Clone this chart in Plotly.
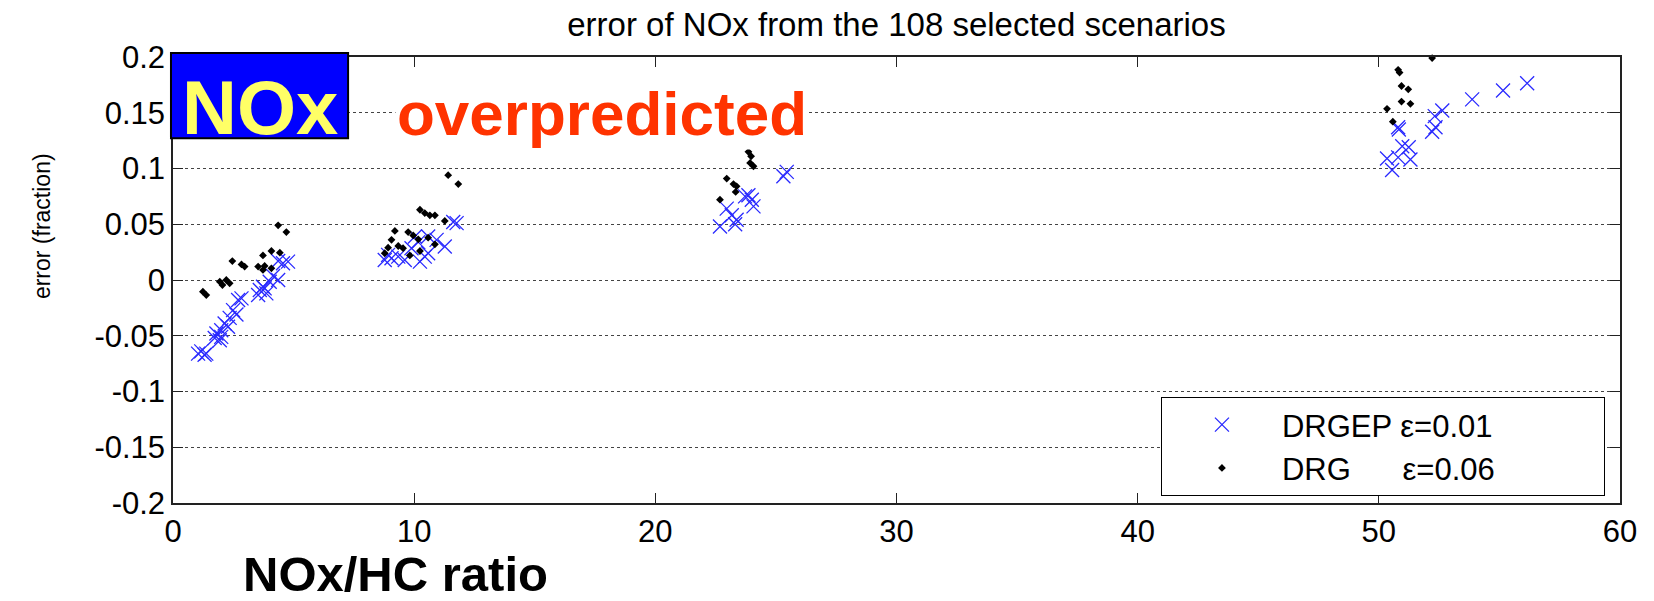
import plotly.graph_objects as go

# ---------------- data ----------------
drgep_x = [4.36, 4.56, 4.77, 4.15, 4.36, 4.01, 3.60, 3.80, 3.87, 3.53, 3.73, 2.84, 2.70, 2.49, 2.63,
           2.35, 2.14, 2.28, 2.00, 1.80, 2.00, 1.94, 1.73, 1.17, 1.31, 1.04, 1.38,
           11.62, 11.76, 11.27, 10.93, 10.58, 10.03, 10.17, 10.58, 10.24, 9.61, 9.34, 9.06, 8.92,
           8.78, 9.89, 10.44,
           25.45, 25.31, 23.86, 24.00, 24.07, 23.72, 22.96, 23.17, 23.37, 23.31, 22.68,
           56.15, 55.15, 53.87, 52.63, 52.32, 52.35, 52.21, 50.80, 50.83, 50.97, 51.24, 50.34,
           50.80, 51.31, 50.55]
drgep_y = [0.017, 0.015, 0.0165, 0.0036, 0.0, -0.0015, -0.009, -0.0075, -0.012, -0.0135, -0.006,
           -0.0165, -0.018, -0.027, -0.031, -0.034, -0.039, -0.042, -0.045, -0.048, -0.051, -0.054,
           -0.052, -0.064, -0.067, -0.066, -0.066,
           0.052, 0.051, 0.030, 0.036, 0.039, 0.039, 0.034, 0.024, 0.0165, 0.018, 0.021, 0.0195,
           0.0225, 0.018, 0.0285, 0.021,
           0.097, 0.093, 0.076, 0.072, 0.066, 0.075, 0.064, 0.058, 0.054, 0.050, 0.048,
           0.1765, 0.170, 0.162, 0.152, 0.147, 0.137, 0.133, 0.137, 0.135, 0.120, 0.119, 0.109,
           0.110, 0.108, 0.0987]

drg_x = [4.36, 4.70, 3.73, 4.08, 4.43, 2.46, 2.84, 2.97, 3.53, 3.73, 3.80, 4.08, 1.94, 2.21, 2.05,
         2.35, 1.24, 1.38,
         11.41, 11.83, 10.24, 10.44, 10.65, 10.86, 11.27, 9.20, 9.75, 9.96, 10.17, 10.58, 10.86,
         9.06, 8.92, 9.34, 9.54, 10.24, 9.82, 8.78,
         23.86, 23.97, 23.93, 24.07, 22.96, 23.24, 23.37, 23.33, 22.68,
         52.21, 50.80, 50.86, 50.94, 51.22, 50.94, 51.31, 50.34, 50.58]
drg_y = [0.049, 0.043, 0.022, 0.026, 0.0245, 0.017, 0.014, 0.012, 0.012, 0.009, 0.0126, 0.0105,
         -0.0015, 0.0, -0.0045, -0.003, -0.0105, -0.0135,
         0.094, 0.086, 0.063, 0.060, 0.058, 0.058, 0.053, 0.044, 0.043, 0.040, 0.0365, 0.038, 0.032,
         0.036, 0.029, 0.0305, 0.0285, 0.026, 0.022, 0.024,
         0.115, 0.111, 0.105, 0.102, 0.091, 0.086, 0.084, 0.079, 0.072,
         0.199, 0.1885, 0.186, 0.174, 0.171, 0.160, 0.158, 0.1535, 0.142]

x_ticks = [0, 10, 20, 30, 40, 50, 60]
y_ticks = [0.2, 0.15, 0.1, 0.05, 0, -0.05, -0.1, -0.15, -0.2]
y_tick_text = ["0.2", "0.15", "0.1", "0.05", "0", "-0.05", "-0.1", "-0.15", "-0.2"]

NB = "\u00a0"
name_drgep = "DRGEP ε=0.01" + NB * 12
name_drg = "DRG" + NB * 6 + "ε=0.06" + NB * 12

FONT = "Arial, 'Liberation Sans', sans-serif"

fig = go.Figure()
fig.add_trace(go.Scatter(
    x=drgep_x, y=drgep_y, mode="markers", name=name_drgep,
    marker=dict(symbol="x-thin", size=14, color="#2a2aff",
                line=dict(color="#2a2aff", width=1.3)),
    cliponaxis=False))
fig.add_trace(go.Scatter(
    x=drg_x, y=drg_y, mode="markers", name=name_drg,
    marker=dict(symbol="diamond", size=6, color="black", line=dict(width=0)),
    cliponaxis=False))

fig.update_layout(
    width=1654, height=601,
    margin=dict(l=173, r=34, t=57, b=98),
    paper_bgcolor="white", plot_bgcolor="white",
    font=dict(family=FONT, color="black"),
    title=dict(text="error of NOx from the 108 selected scenarios",
               x=0.5, xref="paper", xanchor="center",
               y=1 - 24 / 601, yanchor="middle",
               font=dict(size=33, color="black", family=FONT)),
    xaxis=dict(range=[0, 60], tickvals=x_ticks, ticks="inside", ticklen=10,
               tickcolor="#222", showgrid=False, zeroline=False,
               showline=True, linecolor="#222", linewidth=1.5, mirror="ticks",
               tickfont=dict(size=31, family=FONT, color="black")),
    yaxis=dict(range=[-0.2, 0.2], tickvals=y_ticks, ticktext=y_tick_text,
               ticks="inside", ticklen=10, tickcolor="#222",
               showgrid=True, gridcolor="#444", griddash="dot", gridwidth=1,
               zeroline=False, showline=True, linecolor="#222", linewidth=1.5,
               mirror="ticks",
               tickfont=dict(size=31, family=FONT, color="black")),
    legend=dict(x=0.9896, xanchor="right", y=0.0157, yanchor="bottom",
                bgcolor="white", bordercolor="black", borderwidth=1,
                font=dict(size=31, family=FONT, color="black"),
                itemwidth=110, tracegroupgap=0),
    showlegend=True,
)

# NOx label box
fig.add_shape(type="rect", xref="paper", yref="paper",
              x0=-0.0014, x1=0.121, y0=0.818, y1=1.009,
              fillcolor="#0000ff", line=dict(color="black", width=2), layer="above")
fig.add_annotation(text="<b>NOx</b>", xref="paper", yref="paper",
                   x=0.0601, y=0.886, xanchor="center", yanchor="middle",
                   showarrow=False, font=dict(size=76, color="#ffff66", family=FONT))
fig.add_annotation(text="<b>overpredicted</b>", xref="paper", yref="paper",
                   x=0.2965, y=0.874, xanchor="center", yanchor="middle",
                   showarrow=False, bgcolor="white",
                   font=dict(size=62, color="#ff3300", family=FONT))
# axis titles
fig.add_annotation(text="<b>NOx/HC ratio</b>", xref="paper", yref="paper",
                   x=0.154, y=-0.16, xanchor="center", yanchor="middle",
                   showarrow=False, font=dict(size=49, color="black", family=FONT))
fig.add_annotation(text="error (fraction)", xref="paper", yref="paper",
                   x=-0.0905, y=0.621, xanchor="center", yanchor="middle",
                   textangle=-90, showarrow=False,
                   font=dict(size=23, color="black", family=FONT))

fig.write_html("out.html", config={"displayModeBar": False},
               post_script="document.body.style.margin='0px';")
